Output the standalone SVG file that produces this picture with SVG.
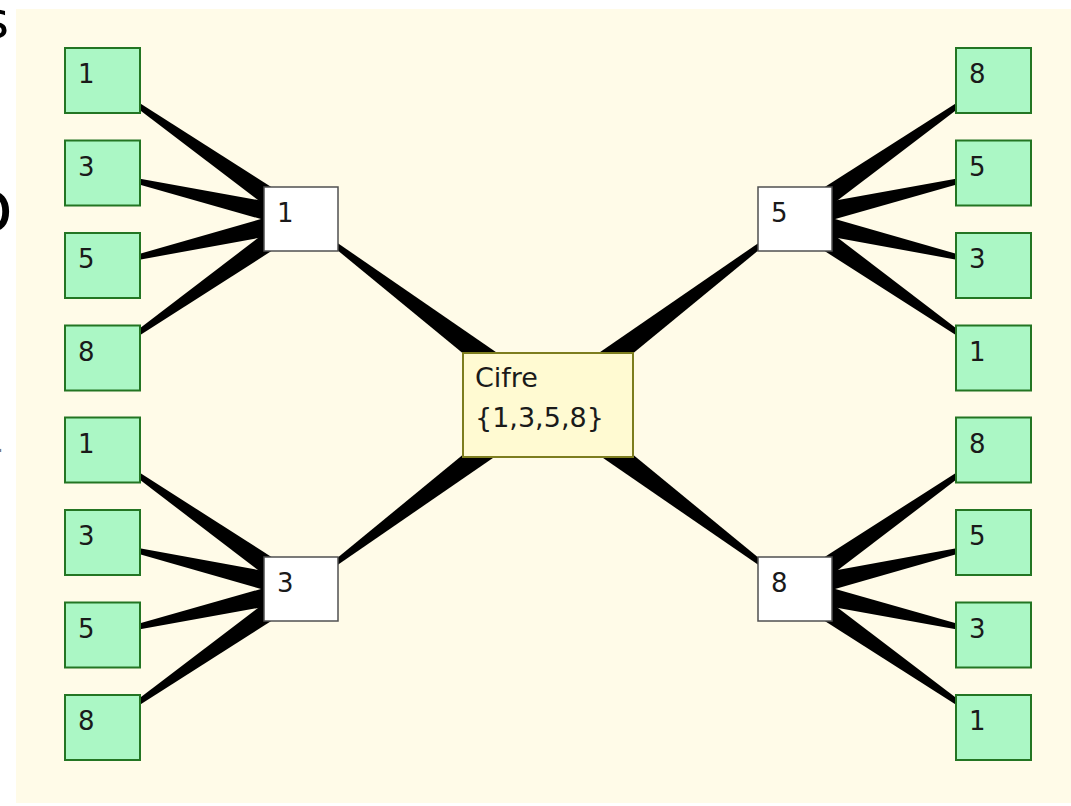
<svg xmlns="http://www.w3.org/2000/svg" width="1071" height="806" viewBox="0 0 1071 806">
<style>
  text { font-family: "DejaVu Sans", "Liberation Sans", sans-serif; fill: #1a1a1a; }
  .lbl { font-size: 26px; }
  .leaf rect { fill: #abf7c5; stroke: #237523; stroke-width: 2; }
  .mid rect { fill: #ffffff; stroke: #505050; stroke-width: 1.5; }
  .root rect { fill: #fffad2; stroke: #7d7d1e; stroke-width: 2; }
  .edges polygon { fill: #000000; }
  .frag { fill: #000000; }
</style>
<rect x="0" y="0" width="1071" height="806" fill="#ffffff"/>
<rect x="16" y="9" width="1055" height="794" fill="#fffbe8"/>
<text class="frag" x="-18" y="38" font-size="52">s</text>
<text class="frag" x="-31" y="231" font-size="72">o</text>
<text class="frag" x="-4" y="452" font-size="24" style="fill:#777">.</text>
<g id="connectors" class="edges">
  <polygon points="101.93,81.32 294.71,228.02 307.29,209.98 103.07,79.68"/>
  <polygon points="102.27,173.97 298.51,229.72 303.49,208.29 102.73,172.03"/>
  <polygon points="102.73,266.47 303.50,229.71 298.50,208.29 102.27,264.53"/>
  <polygon points="103.07,358.82 307.30,228.02 294.70,209.98 101.93,357.18"/>
  <polygon points="300.40,219.80 539.58,416.18 556.42,393.82 301.60,218.20"/>
  <polygon points="994.07,81.32 801.29,228.02 788.71,209.98 992.93,79.68"/>
  <polygon points="993.73,173.97 797.49,229.72 792.51,208.29 993.27,172.03"/>
  <polygon points="993.27,266.47 792.50,229.71 797.50,208.29 993.73,264.53"/>
  <polygon points="992.93,358.82 788.70,228.02 801.30,209.98 994.07,357.18"/>
  <polygon points="795.60,219.80 556.42,416.18 539.58,393.82 794.40,218.20"/>
  <polygon points="101.93,726.68 294.71,579.98 307.29,598.02 103.07,728.32"/>
  <polygon points="102.27,634.03 298.51,578.28 303.49,599.71 102.73,635.97"/>
  <polygon points="102.73,541.53 303.50,578.29 298.50,599.71 102.27,543.47"/>
  <polygon points="103.07,449.18 307.30,579.98 294.70,598.02 101.93,450.82"/>
  <polygon points="300.40,588.20 539.58,391.82 556.42,414.18 301.60,589.80"/>
  <polygon points="994.07,726.68 801.29,579.98 788.71,598.02 992.93,728.32"/>
  <polygon points="993.73,634.03 797.49,578.28 792.51,599.71 993.27,635.97"/>
  <polygon points="993.27,541.53 792.50,578.29 797.50,599.71 993.73,543.47"/>
  <polygon points="992.93,449.18 788.70,579.98 801.30,598.02 994.07,450.82"/>
  <polygon points="795.60,588.20 556.42,391.82 539.58,414.18 794.40,589.80"/>
</g>
<g id="root" class="root">
  <rect x="463" y="353" width="170" height="104"/>
  <text x="475" y="387" font-size="27">Cifre</text>
  <text x="475" y="427" font-size="27">{1,3,5,8}</text>
</g>
<g id="mid-tl" class="mid"><rect x="264" y="187" width="74" height="64"/><text class="lbl" x="277" y="222">1</text></g>
<g id="mid-bl" class="mid"><rect x="264" y="557" width="74" height="64"/><text class="lbl" x="277" y="592">3</text></g>
<g id="mid-tr" class="mid"><rect x="758" y="187" width="74" height="64"/><text class="lbl" x="771" y="222">5</text></g>
<g id="mid-br" class="mid"><rect x="758" y="557" width="74" height="64"/><text class="lbl" x="771" y="592">8</text></g>
<g id="leaf-tl-1" class="leaf"><rect x="65" y="48" width="75" height="65"/><text class="lbl" x="78" y="83">1</text></g>
<g id="leaf-tl-3" class="leaf"><rect x="65" y="140.5" width="75" height="65"/><text class="lbl" x="78" y="175.5">3</text></g>
<g id="leaf-tl-5" class="leaf"><rect x="65" y="233" width="75" height="65"/><text class="lbl" x="78" y="268">5</text></g>
<g id="leaf-tl-8" class="leaf"><rect x="65" y="325.5" width="75" height="65"/><text class="lbl" x="78" y="360.5">8</text></g>
<g id="leaf-bl-1" class="leaf"><rect x="65" y="417.5" width="75" height="65"/><text class="lbl" x="78" y="452.5">1</text></g>
<g id="leaf-bl-3" class="leaf"><rect x="65" y="510" width="75" height="65"/><text class="lbl" x="78" y="545">3</text></g>
<g id="leaf-bl-5" class="leaf"><rect x="65" y="602.5" width="75" height="65"/><text class="lbl" x="78" y="637.5">5</text></g>
<g id="leaf-bl-8" class="leaf"><rect x="65" y="695" width="75" height="65"/><text class="lbl" x="78" y="730">8</text></g>
<g id="leaf-tr-8" class="leaf"><rect x="956" y="48" width="75" height="65"/><text class="lbl" x="969" y="83">8</text></g>
<g id="leaf-tr-5" class="leaf"><rect x="956" y="140.5" width="75" height="65"/><text class="lbl" x="969" y="175.5">5</text></g>
<g id="leaf-tr-3" class="leaf"><rect x="956" y="233" width="75" height="65"/><text class="lbl" x="969" y="268">3</text></g>
<g id="leaf-tr-1" class="leaf"><rect x="956" y="325.5" width="75" height="65"/><text class="lbl" x="969" y="360.5">1</text></g>
<g id="leaf-br-8" class="leaf"><rect x="956" y="417.5" width="75" height="65"/><text class="lbl" x="969" y="452.5">8</text></g>
<g id="leaf-br-5" class="leaf"><rect x="956" y="510" width="75" height="65"/><text class="lbl" x="969" y="545">5</text></g>
<g id="leaf-br-3" class="leaf"><rect x="956" y="602.5" width="75" height="65"/><text class="lbl" x="969" y="637.5">3</text></g>
<g id="leaf-br-1" class="leaf"><rect x="956" y="695" width="75" height="65"/><text class="lbl" x="969" y="730">1</text></g>
</svg>
